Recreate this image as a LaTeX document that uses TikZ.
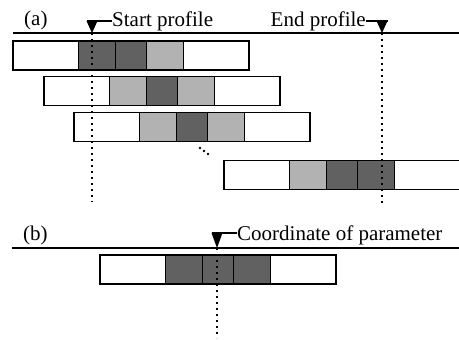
\documentclass[tikz,border=0pt]{standalone}
\usepackage{fontspec}
\setmainfont{Liberation Serif}
\usetikzlibrary{positioning}

\begin{document}
\begin{tikzpicture}[x=1pt,y=-1pt,
  cell/.style={draw,line width=1.6pt,minimum height=29pt,inner sep=0pt,outer sep=0pt},
  wcell/.style={cell,fill=white,minimum width=65.5pt},
  dcell/.style={cell,fill=black!62},
  lcell/.style={cell,fill=black!30},
  side/.style={minimum width=37pt},
  mid/.style={minimum width=31pt},
  rule/.style={line width=1.6pt},
  probe/.style={line width=2pt,dash pattern=on 2pt off 4pt},
  lbl/.style={font=\fontsize{21}{25}\selectfont,inner sep=0pt}]

\useasboundingbox (0,0) rectangle (459,340);

% (a)
\node[lbl,anchor=base west] (la) at (24,25) {(a)};
\draw[rule] (13,33) -- (459,33);

\node[wcell,anchor=west] (r1a) at (13,55.5) {};
\node[dcell,side,right=0pt of r1a] (r1b) {};
\node[dcell,mid,right=0pt of r1b] (r1c) {};% первый профиль
\node[lcell,side,right=0pt of r1c] (r1d) {};
\node[wcell,right=0pt of r1d] (r1e) {};

\node[wcell,anchor=west] (r2a) at (44,91) {};
\node[lcell,side,right=0pt of r2a] (r2b) {};
\node[dcell,mid,right=0pt of r2b] (r2c) {};
\node[lcell,side,right=0pt of r2c] (r2d) {};
\node[wcell,right=0pt of r2d] (r2e) {};

\node[wcell,anchor=west] (r3a) at (74,127) {};
\node[lcell,side,right=0pt of r3a] (r3b) {};
\node[dcell,mid,right=0pt of r3b] (r3c) {};
\node[lcell,side,right=0pt of r3c] (r3d) {};
\node[wcell,right=0pt of r3d] (r3e) {};

\fill (200,148) circle (1.3) (204,151) circle (1.3) (208,154) circle (1.3);% многоточие

\node[wcell,anchor=west] (r4a) at (224,175) {};
\node[lcell,side,right=0pt of r4a] (r4b) {};
\node[dcell,mid,right=0pt of r4b] (r4c) {};% последний профиль
\node[dcell,side,right=0pt of r4c] (r4d) {};
\node[wcell,right=0pt of r4d] (r4e) {};

\coordinate (sp) at (92,33);
\coordinate (spt) at (92,21);
\coordinate (spb) at (92,202);
\node[lbl,anchor=base west] (st) at (112,27) {Start profile};
\fill (sp) -- ([xshift=-5.5pt]spt) -- ([xshift=5.5pt]spt) -- cycle;
\draw[rule] ([xshift=-5.5pt]spt) -- (spt -| st.west);
\draw[probe] (sp) -- (spb);

\coordinate (ep) at (382,33);
\coordinate (ept) at (382,21);
\coordinate (epb) at (382,203);
\node[lbl,anchor=base east] (et) at (366,27) {End profile};
\fill (ep) -- ([xshift=-5.5pt]ept) -- ([xshift=5.5pt]ept) -- cycle;
\draw[rule] (ept -| et.east) -- ([xshift=5.5pt]ept);
\draw[probe] (ep) -- (epb);

% (b)
\node[lbl,anchor=base west] (lb) at (23,240) {(b)};
\draw[rule] (12,248) -- (459,248);

\node[wcell,anchor=west] (q1) at (100,269.5) {};
\node[dcell,side,right=0pt of q1] (q2) {};
\node[dcell,mid,right=0pt of q2] (q3) {};
\node[dcell,side,right=0pt of q3] (q4) {};
\node[wcell,right=0pt of q4] (q5) {};

\coordinate (cp) at (217,248);
\coordinate (cpt) at (217,233);
\coordinate (cpb) at (217,338);
\node[lbl,anchor=base west] (ct) at (237,240) {Coordinate of parameter};
\fill (cp) -- ([xshift=-5.5pt]cpt) -- ([xshift=5.5pt]cpt) -- cycle;
\draw[rule] ([xshift=-5.5pt]cpt) -- (cpt -| ct.west);
\draw[probe] (cp) -- (cpb);

\end{tikzpicture}
\end{document}
